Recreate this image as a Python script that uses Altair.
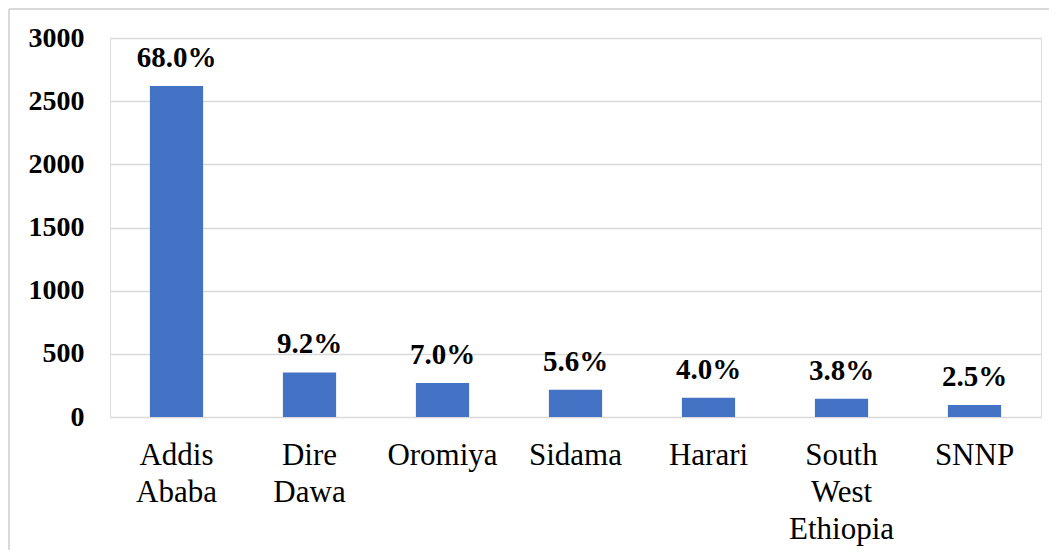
import altair as alt
import pandas as pd

regions = ["Addis Ababa", "Dire Dawa", "Oromiya", "Sidama", "Harari", "South West Ethiopia", "SNNP"]
counts = [2620, 353, 269, 216, 153, 145, 95]
pct_labels = ["68.0%", "9.2%", "7.0%", "5.6%", "4.0%", "3.8%", "2.5%"]
y_ticks = [0, 500, 1000, 1500, 2000, 2500, 3000]

df = pd.DataFrame({"region": regions, "count": counts, "pct": pct_labels})

FONT = "Liberation Serif"

x_enc = alt.X(
    "region:N",
    sort=regions,
    scale=alt.Scale(paddingInner=0.6, paddingOuter=0.3),
    axis=alt.Axis(
        title=None,
        labelAngle=0,
        labelFont=FONT,
        labelFontSize=31,
        labelFontWeight="normal",
        labelColor="#000000",
        labelLineHeight=37,
        labelBaseline="top",
        labelPadding=23,
        labelExpr="split(datum.label, ' ')",
        ticks=False,
        domain=False,
        grid=False,
    ),
)
y_enc = alt.Y(
    "count:Q",
    scale=alt.Scale(domain=[0, 3000], nice=False),
    axis=alt.Axis(
        title=None,
        values=y_ticks,
        format="d",
        labelFont=FONT,
        labelFontSize=28,
        labelFontWeight="bold",
        labelColor="#000000",
        labelPadding=26,
        ticks=False,
        domain=False,
        grid=True,
        gridColor="#d9d9d9",
        gridWidth=1.5,
    ),
)

bars = alt.Chart(df).mark_bar(color="#4472C4").encode(x=x_enc, y=y_enc)

labels = alt.Chart(df).mark_text(
    font=FONT, fontSize=29, fontWeight="bold", color="#000000",
    baseline="alphabetic", dy=-19, align="center"
).encode(x=alt.X("region:N", sort=regions), y="count:Q", text="pct:N")

one = df[df.region == "SNNP"]
frame_top = alt.Chart(one).mark_rule(color="#d9d9d9", strokeWidth=2, clip=False).encode(
    x=alt.value(-101), x2=alt.value(960), y=alt.value(-29)
)
frame_left = alt.Chart(one).mark_rule(color="#d9d9d9", strokeWidth=2, clip=False).encode(
    x=alt.value(-101), y=alt.value(-29), y2=alt.value(540)
)

chart = alt.layer(frame_top, frame_left, bars, labels).properties(
    width=931,
    height=379,
    autosize=alt.AutoSizeParams(type="none"),
    padding={"left": 102, "top": 30, "right": 8, "bottom": 133},
).configure_view(stroke=None).configure(background="#ffffff")

chart.save("out.html", embed_options={"renderer": "svg", "actions": False})
